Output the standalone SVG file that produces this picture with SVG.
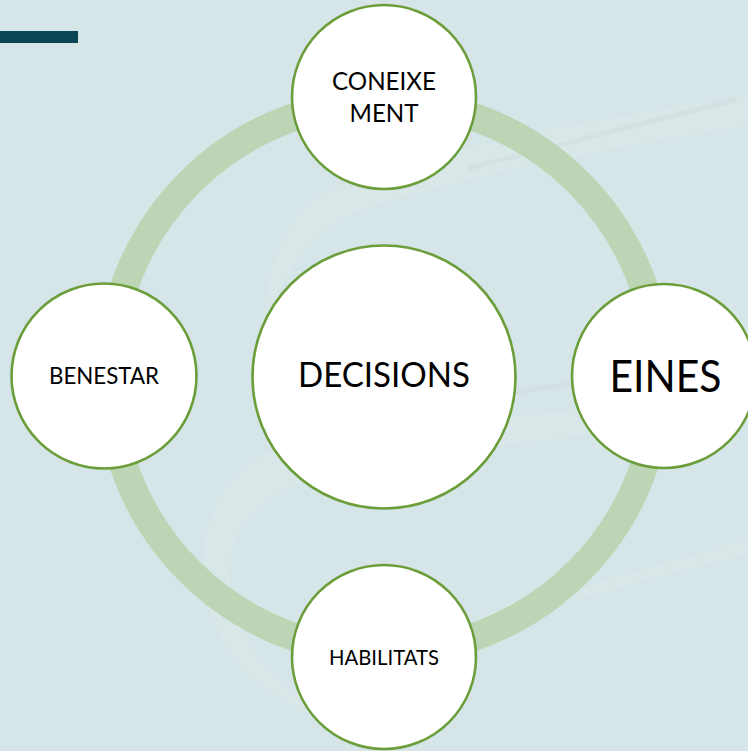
<svg xmlns="http://www.w3.org/2000/svg" width="748" height="751" viewBox="0 0 748 751">
  <style>
    .node { fill: #ffffff; stroke: #6b9e3a; stroke-width: 2.6; }
    .ring { fill: none; stroke: #bcd5b4; stroke-width: 28; }
    .lbl { font-family: Lato, "Open Sans", "Liberation Sans", sans-serif; fill: #000000; text-anchor: middle; }
    .wisp { fill: #ffffff; opacity: 0.09; }
    .streak { fill: none; stroke: #c9d3d8; stroke-linecap: round; opacity: 0.3; }
  </style>
  <rect x="0" y="0" width="748" height="751" fill="#d6e5e7"/>
  <g id="background">
    <path class="wisp" d="M748,96 C600,118 420,150 330,190 C285,215 262,270 264,345 C275,285 300,240 350,215 C440,180 600,150 748,125 Z"/>
    <path class="streak" stroke-width="5" d="M470,168 Q600,135 735,100"/>
    <path class="wisp" d="M748,395 C600,410 420,420 300,440 C220,460 195,530 205,590 C215,650 260,700 330,720 C260,680 225,620 230,560 C240,500 300,470 420,455 C560,440 660,425 748,410 Z"/>
    <path class="wisp" d="M748,540 C640,570 540,600 480,615 L470,625 C560,605 660,575 748,555 Z"/>
    <path class="streak" stroke-width="4" d="M500,395 Q620,375 748,360"/>
  </g>
  <rect id="bar" x="0" y="31" width="78" height="12" fill="#0a4654"/>
  <g id="connectors">
    <circle class="ring" cx="384" cy="377" r="275"/>
  </g>
  <g id="node-coneixement">
    <circle class="node" cx="384" cy="97" r="92"/>
    <text class="lbl" x="384" y="90" font-size="25.5" textLength="104" lengthAdjust="spacingAndGlyphs">CONEIXE</text>
    <text class="lbl" x="384" y="121.7" font-size="25.5" textLength="69" lengthAdjust="spacingAndGlyphs">MENT</text>
  </g>
  <g id="node-benestar">
    <circle class="node" cx="104" cy="376" r="92.5"/>
    <text class="lbl" x="104" y="384.3" font-size="22.3" textLength="110" lengthAdjust="spacingAndGlyphs">BENESTAR</text>
  </g>
  <g id="node-decisions">
    <circle class="node" cx="384" cy="377" r="131.5"/>
    <text class="lbl" x="384" y="387.4" font-size="35" textLength="172" lengthAdjust="spacingAndGlyphs">DECISIONS</text>
  </g>
  <g id="node-eines">
    <circle class="node" cx="664" cy="376" r="92"/>
    <text class="lbl" x="665.5" y="391.7" font-size="45" textLength="112" lengthAdjust="spacingAndGlyphs">EINES</text>
  </g>
  <g id="node-habilitats">
    <circle class="node" cx="384" cy="657" r="92"/>
    <text class="lbl" x="384" y="665" font-size="22" textLength="110" lengthAdjust="spacingAndGlyphs">HABILITATS</text>
  </g>
</svg>
